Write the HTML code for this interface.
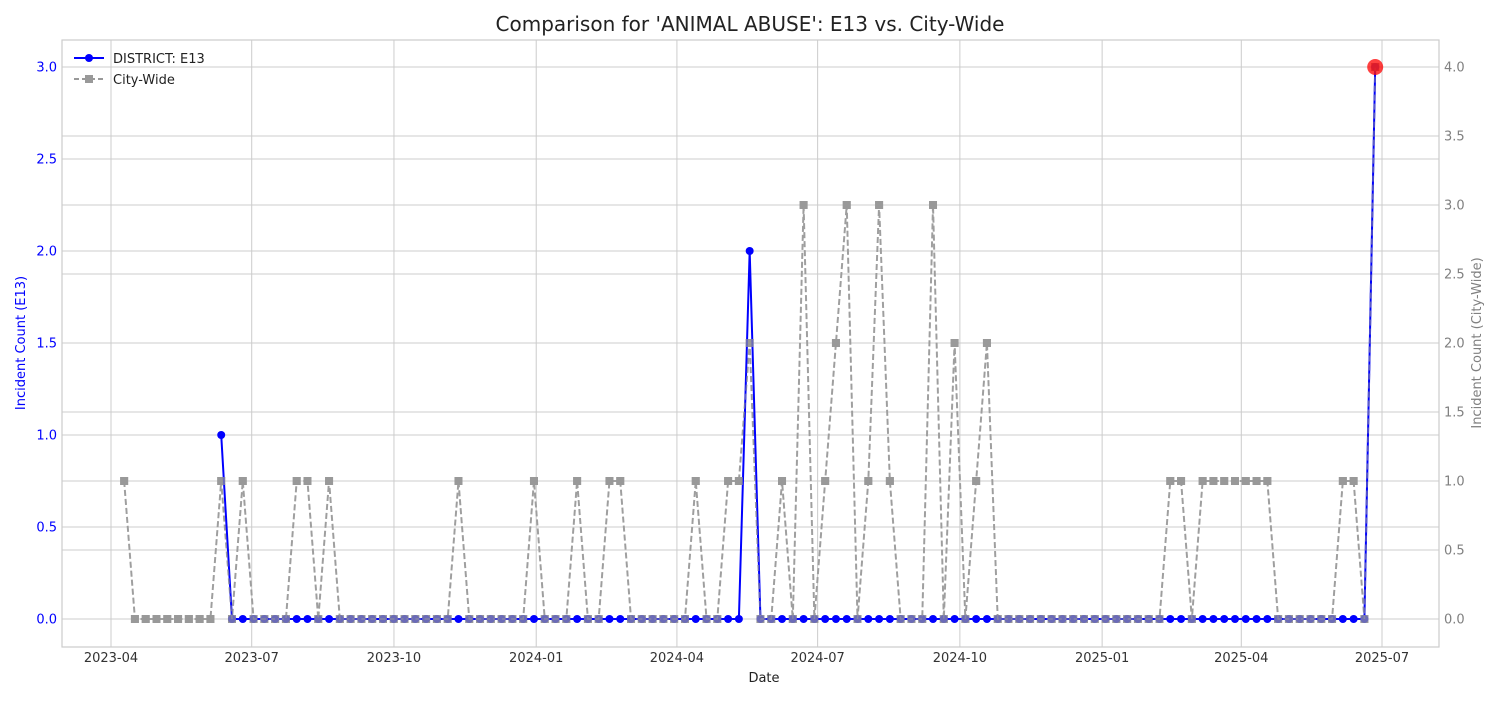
<!DOCTYPE html>
<html><head><meta charset="utf-8"><style>
body{margin:0;background:#fff;}
svg text{font-family:"DejaVu Sans","Liberation Sans",sans-serif;}
</style></head><body>
<svg id="chart" width="1500" height="700" xmlns="http://www.w3.org/2000/svg">
<text x="750" y="31" text-anchor="middle" font-size="20" fill="#222">Comparison for 'ANIMAL ABUSE': E13 vs. City-Wide</text>
<g id="grid"></g>
<g id="series"></g>
<rect x="62" y="40" width="1377" height="607" fill="none" stroke="#ccc" stroke-width="1.2"/>
<g id="axes"></g>
<text x="764" y="682" text-anchor="middle" font-size="13" fill="#222">Date</text>
<text transform="translate(25,343) rotate(-90)" text-anchor="middle" font-size="13" fill="blue">Incident Count (E13)</text>
<text transform="translate(1481,343) rotate(-90)" text-anchor="middle" font-size="13" fill="#808080">Incident Count (City-Wide)</text>
<g>
<line x1="74" y1="58" x2="104" y2="58" stroke="blue" stroke-width="2"/>
<circle cx="89" cy="58" r="4" fill="blue"/>
<text x="113" y="63" font-size="13" fill="#222">DISTRICT: E13</text>
<line x1="74" y1="79" x2="104" y2="79" stroke="#999" stroke-width="2" stroke-dasharray="5,3"/>
<rect x="85" y="75" width="8" height="8" fill="#999"/>
<text x="113" y="84" font-size="13" fill="#222">City-Wide</text>
</g>
</svg>
<script>
const cityValues=[1,0,0,0,0,0,0,0,0,1,0,1,0,0,0,0,1,1,0,1,0,0,0,0,0,0,0,0,0,0,0,1,0,0,0,0,0,0,1,0,0,0,1,0,0,1,1,0,0,0,0,0,0,1,0,0,1,1,2,0,0,1,0,3,0,1,2,3,0,1,3,1,0,0,0,3,0,2,0,1,2,0,0,0,0,0,0,0,0,0,0,0,0,0,0,0,0,1,1,0,1,1,1,1,1,1,1,0,0,0,0,0,0,1,1,0,4];
const districtStart=9;
const districtValues=[1,0,0,0,0,0,0,0,0,0,0,0,0,0,0,0,0,0,0,0,0,0,0,0,0,0,0,0,0,0,0,0,0,0,0,0,0,0,0,0,0,0,0,0,0,0,0,0,0,2,0,0,0,0,0,0,0,0,0,0,0,0,0,0,0,0,0,0,0,0,0,0,0,0,0,0,0,0,0,0,0,0,0,0,0,0,0,0,0,0,0,0,0,0,0,0,0,0,0,0,0,0,0,0,0,0,0,3];
const firstWeek="2023-04-09";
const xTickLabels=["2023-04","2023-07","2023-10","2024-01","2024-04","2024-07","2024-10","2025-01","2025-04","2025-07"];
const leftTicks=[0,0.5,1,1.5,2,2.5,3];
const rightTicks=[0,0.5,1,1.5,2,2.5,3,3.5,4];
const NS="http://www.w3.org/2000/svg";
const t0=Date.UTC(2023,3,1),t1=Date.UTC(2025,6,1);
function xScale(ms){return 111+(ms-t0)/(t1-t0)*(1382-111);}
function yL(v){return 619-v*184;}
function yR(v){return 619-v*138;}
function mk(tag,attrs,parent){const e=document.createElementNS(NS,tag);for(const k in attrs)e.setAttribute(k,attrs[k]);parent.appendChild(e);return e;}
const grid=document.getElementById('grid'),axes=document.getElementById('axes'),series=document.getElementById('series');
xTickLabels.forEach(s=>{const [y,m]=s.split('-').map(Number);const x=xScale(Date.UTC(y,m-1,1));
 const l=mk('line',{x1:x,x2:x,y1:40,y2:647,stroke:'#ccc','stroke-width':1},grid);
 
 
 const t=mk('text',{x:x,y:662,'text-anchor':'middle','font-size':13,fill:'#333'},axes);t.textContent=s;
 
 });
leftTicks.forEach(v=>{const y=yL(v);
 const l=mk('line',{x1:62,x2:1439,y1:y,y2:y,stroke:'#ccc','stroke-width':1},grid);
 
 
 const t=mk('text',{x:57,y:y+4.5,'text-anchor':'end','font-size':13,fill:'blue'},axes);t.textContent=v.toFixed(1);
 
 });
rightTicks.forEach(v=>{const y=yR(v);
 const l=mk('line',{x1:62,x2:1439,y1:y,y2:y,stroke:'#ccc','stroke-width':1},grid);
 
 
 const t=mk('text',{x:1444,y:y+4.5,'text-anchor':'start','font-size':13,fill:'#808080'},axes);t.textContent=v.toFixed(1);
 
 });
const fw=Date.parse(firstWeek+"T12:00:00Z");
const stepDays=6.975;
function xi(i){return xScale(fw+i*stepDays*86400000);}
// city
let d=cityValues.map((v,i)=>(i?'L':'M')+xi(i)+','+yR(v)).join('');
const cl=mk('path',{d:d,fill:'none',stroke:'#a6a6a6','stroke-width':2,'stroke-dasharray':'6,3'},series);


cityValues.forEach((v,i)=>{const r=mk('rect',{x:xi(i)-4,y:yR(v)-4,width:8,height:8,fill:'#999'},series);
 
 });
// district
d=districtValues.map((v,i)=>(i?'L':'M')+xi(i+districtStart)+','+yL(v)).join('');
const dl=mk('path',{d:d,fill:'none',stroke:'blue','stroke-width':2},series);


districtValues.forEach((v,i)=>{const c=mk('circle',{cx:xi(i+districtStart),cy:yL(v),r:4,fill:'blue'},series);
 
 });
const cl2=mk('path',{d:cityValues.map((v,i)=>(i?'L':'M')+xi(i)+','+yR(v)).join(''),fill:'none',stroke:'#999','stroke-width':1.5,'stroke-dasharray':'6,3','stroke-opacity':0.6},series);


cityValues.forEach((v,i)=>{const r=mk('rect',{x:xi(i)-4,y:yR(v)-4,width:8,height:8,fill:'#999','fill-opacity':0.7},series);
 
 });
const li=districtValues.length-1;
const hl=mk('circle',{cx:xi(li+districtStart),cy:yL(districtValues[li]),r:8,fill:'red','fill-opacity':0.75},series);


</script>
</body></html>
